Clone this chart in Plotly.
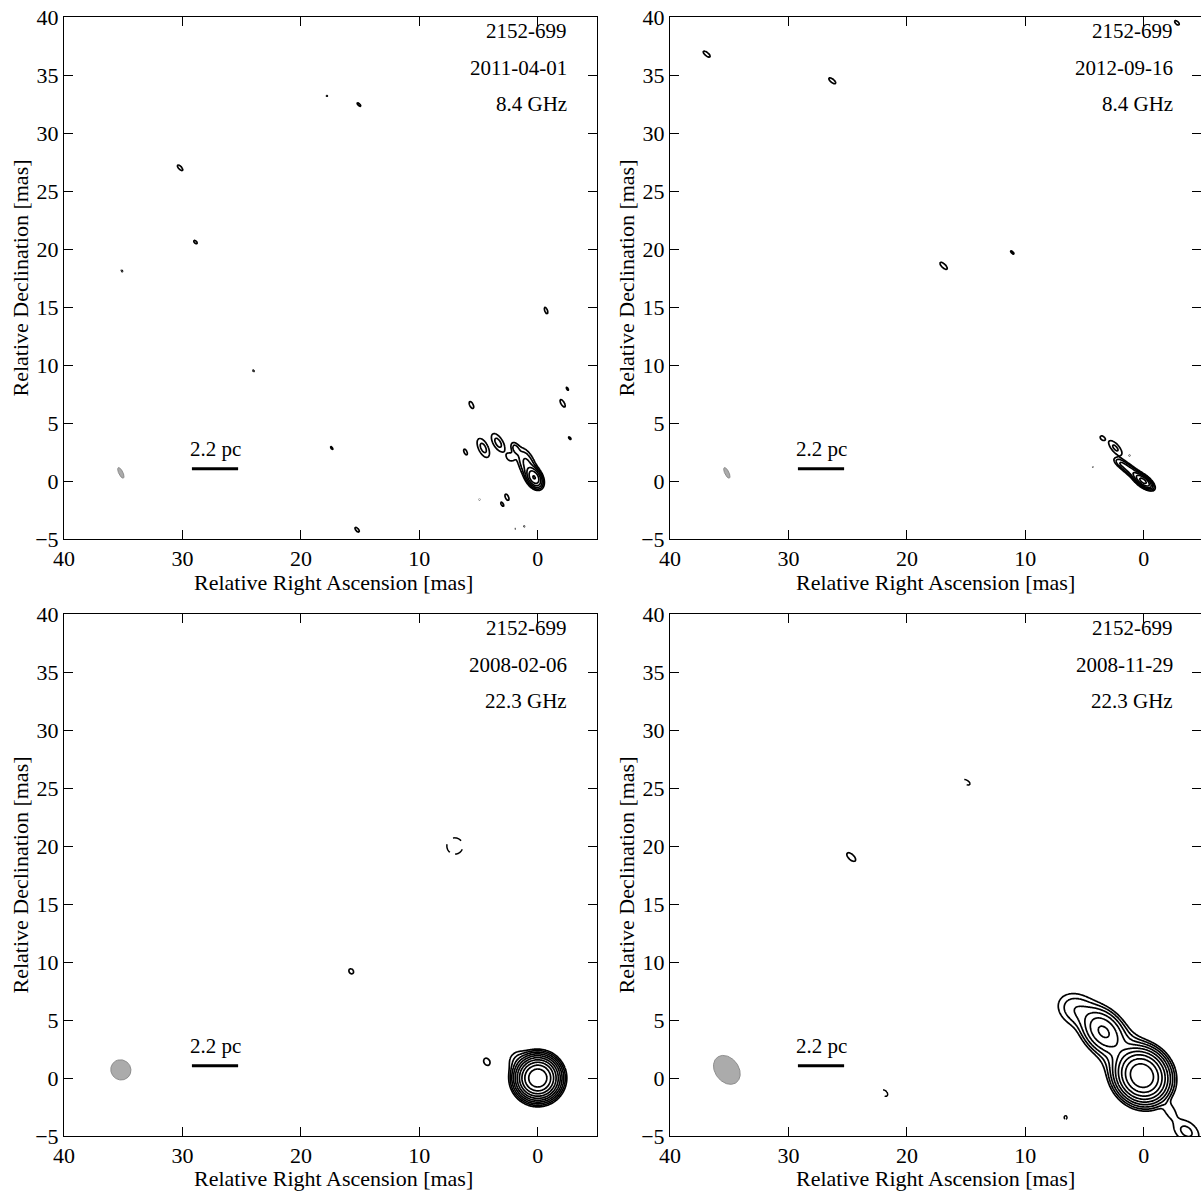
import numpy as np
import plotly.graph_objects as go

# ---------------- data ----------------
source_name = "2152-699"
epochs = ["2011-04-01", "2012-09-16", "2008-02-06", "2008-11-29"]
freqs = ["8.4 GHz", "8.4 GHz", "22.3 GHz", "22.3 GHz"]
x_title = "Relative Right Ascension [mas]"
y_title = "Relative Declination [mas]"

# Model components of each map (relative RA [mas], relative Dec [mas],
# peak in units of the lowest contour, sigma major / minor [mas], PA [deg])
p1_x = [30.2, 28.9, 35.1, 17.8, 15.1, 24.0, 17.4, 15.25, 29.3, -0.7, 5.6, 6.1, 4.6, 3.35, 1.6,
        -2.1, -2.5, -2.7, 4.9, 3.0, 2.6, 1.9, 1.15, 0.3, 0.9, 1.9, 2.3]
p1_y = [27.0, 20.6, 18.1, 33.2, 32.45, 9.5, 2.85, -4.2, 0.5, 14.7, 6.55, 2.5, 2.85, 3.3, 4.5,
        6.7, 7.95, 3.7, -1.6, -2.0, -1.4, -4.1, -3.9, 0.3, 1.4, 2.8, 2.05]
p1_peak = [1.6, 1.4, 1.15, 1.15, 1.4, 1.15, 1.3, 1.4, 1.05, 1.4, 1.4, 1.4, 2.5, 2.5, 1.1,
           1.5, 1.2, 1.25, 1.1, 1.4, 1.5, 1.05, 1.15, 32, 5, 2.5, 1.8]
p1_smaj = [0.32, 0.22, 0.18, 0.18, 0.25, 0.18, 0.22, 0.3, 0.1, 0.35, 0.4, 0.32, 0.65, 0.65, 0.1,
           0.4, 0.25, 0.22, 0.12, 0.25, 0.32, 0.1, 0.14, 0.45, 0.85, 0.38, 0.3]
p1_smin = [0.13, 0.12, 0.07, 0.07, 0.1, 0.07, 0.08, 0.14, 0.05, 0.14, 0.18, 0.15, 0.3, 0.3, 0.06,
           0.16, 0.1, 0.1, 0.06, 0.11, 0.15, 0.05, 0.06, 0.28, 0.38, 0.22, 0.25]
p1_pa = [42, 45, 40, 45, 45, 40, 35, 40, 40, 20, 25, 25, 25, 30, 30,
         30, 30, 40, 40, 30, 25, 40, 40, 28, 22, 25, 40]

p2_x = [36.9, 26.3, 16.9, 11.1, -2.8, 3.5, 2.4, 1.2, 4.3, 0.05, 1.0, 1.9]
p2_y = [36.8, 34.5, 18.55, 19.7, 39.5, 3.7, 2.85, 2.2, 1.2, 0.0, 0.8, 1.5]
p2_peak = [1.5, 1.5, 1.5, 1.3, 1.4, 1.4, 2.3, 1.1, 1.1, 40, 6, 3]
p2_smaj = [0.4, 0.4, 0.45, 0.28, 0.3, 0.25, 0.6, 0.1, 0.1, 0.45, 0.7, 0.45]
p2_smin = [0.16, 0.16, 0.18, 0.1, 0.15, 0.17, 0.25, 0.06, 0.06, 0.2, 0.22, 0.2]
p2_pa = [50, 50, 45, 45, 45, 45, 40, 40, 40, 52, 52, 55]

p3_x = [0.0, 1.6, 4.3, 7.0, 15.75, 15.8, 20.2]
p3_y = [0.0, 1.5, 1.4, 20.0, 9.2, 11.2, -1.7]
p3_peak = [1000, 2.0, 1.4, -1.5, 1.35, 1.1, 1.05]
p3_smaj = [0.67, 0.6, 0.4, 0.78, 0.3, 0.12, 0.08]
p3_smin = [0.66, 0.6, 0.3, 0.75, 0.24, 0.06, 0.05]
p3_pa = [0, 0, 30, 0, 30, 40, 40]

p4_x = [24.7, 15.0, 21.9, 6.6, 0.15, 1.4, 3.4, 5.5, -2.2, -3.6]
p4_y = [19.05, 25.5, -1.3, -3.4, 0.2, 1.7, 4.0, 5.8, -2.8, -4.6]
p4_peak = [1.3, -1.2, -1.3, -1.2, 500, 10, 36, 4, 1.6, 2.4]
p4_smaj = [0.65, 0.6, 0.45, 0.25, 0.9, 1.3, 1.0, 1.1, 0.6, 0.9]
p4_smin = [0.32, 0.3, 0.3, 0.2, 0.8, 0.9, 0.7, 0.8, 0.35, 0.6]
p4_pa = [45, 60, 45, 0, 35, 40, 40, 60, 30, 50]

# restoring beams (semi-axes [mas], PA [deg])
beam_x = 35.2
beam_y = 0.7
beam_a = [0.5, 0.5, 0.88, 1.35]
beam_b = [0.18, 0.18, 0.84, 1.0]
beam_pa = [25, 25, 30, 35]

# linear scale bar
bar_x0, bar_x1, bar_y = 29.2, 25.3, 1.05
bar_label = "2.2 pc"

# contour levels: lowest contour times powers of two
level_exponents = list(range(0, 13))

x_ticks = [40, 30, 20, 10, 0]
y_ticks = [-5, 0, 5, 10, 15, 20, 25, 30, 35, 40]

panels = [
    (p1_x, p1_y, p1_peak, p1_smaj, p1_smin, p1_pa),
    (p2_x, p2_y, p2_peak, p2_smaj, p2_smin, p2_pa),
    (p3_x, p3_y, p3_peak, p3_smaj, p3_smin, p3_pa),
    (p4_x, p4_y, p4_peak, p4_smaj, p4_smin, p4_pa),
]

# ---------------- figure ----------------
FONT = "Liberation Serif"
fig = go.Figure()


def model_field(comps, gx, gy):
    X, Y = np.meshgrid(gx, gy)
    F = np.zeros_like(X)
    for cx, cy, pk, sa, sb, pa in zip(*comps):
        t = np.deg2rad(pa)
        dx, dy = X - cx, Y - cy
        u = dx * np.sin(t) + dy * np.cos(t)
        v = dx * np.cos(t) - dy * np.sin(t)
        F += pk * np.exp(-0.5 * ((u / sa) ** 2 + (v / sb) ** 2))
    return F


W, H = 1201, 1191
xdom = [[64 / W, 597 / W], [670 / W, 1.0], [64 / W, 597 / W], [670 / W, 1.0]]
ydom = [[(H - 539) / H, (H - 17) / H], [(H - 539) / H, (H - 17) / H],
        [(H - 1136) / H, (H - 614) / H], [(H - 1136) / H, (H - 614) / H]]
xtitle_pos = [(333 / W, (H - 582) / H), (935 / W, (H - 582) / H),
              (333 / W, (H - 1178) / H), (935 / W, (H - 1178) / H)]
px_per_mas = 533 / 45.0

black = [[0, "black"], [1, "black"]]
annotations = []
layout_axes = {}

for i, comps in enumerate(panels):
    n = i + 1
    xa = "x" if n == 1 else f"x{n}"
    ya = "y" if n == 1 else f"y{n}"

    step = 0.07
    gx = np.arange(-5.3, 40.3, step)
    gy = np.arange(-5.3, 40.3, step)
    F = model_field(comps, gx, gy)
    Zp = np.log2(np.clip(F, 2.0 ** -10, None)).astype(np.float32)
    fig.add_trace(go.Contour(
        x=gx.astype(np.float32), y=gy.astype(np.float32), z=Zp, xaxis=xa, yaxis=ya,
        contours=dict(start=level_exponents[0], end=level_exponents[-1], size=1, coloring="lines"),
        colorscale=black, showscale=False, line=dict(width=1.7), hoverinfo="skip"))

    negs = [k for k, p in enumerate(comps[2]) if p < 0]
    if negs:
        nx = [comps[0][k] for k in negs]
        ny = [comps[1][k] for k in negs]
        lx = np.arange(min(nx) - 2.5, max(nx) + 2.5, 0.04)
        ly = np.arange(min(ny) - 2.5, max(ny) + 2.5, 0.04)
        Fn = model_field(comps, lx, ly)
        Zn = np.log2(np.clip(-Fn, 2.0 ** -10, None)).astype(np.float32)
        fig.add_trace(go.Contour(
            x=lx.astype(np.float32), y=ly.astype(np.float32), z=Zn, xaxis=xa, yaxis=ya,
            contours=dict(start=0, end=0.5, size=1, coloring="lines"),
            colorscale=black, showscale=False, line=dict(width=1.5, dash="dash"),
            hoverinfo="skip"))

    # beam
    th = np.linspace(0, 2 * np.pi, 120)
    t = np.deg2rad(beam_pa[i])
    u = beam_a[i] * np.cos(th)
    v = beam_b[i] * np.sin(th)
    bx = beam_x + u * np.sin(t) + v * np.cos(t)
    by = beam_y + u * np.cos(t) - v * np.sin(t)
    fig.add_trace(go.Scatter(x=bx, y=by, mode="lines", fill="toself",
                             fillcolor="#ababab", line=dict(color="#8c8c8c", width=1),
                             xaxis=xa, yaxis=ya, hoverinfo="skip", showlegend=False))
    # scale bar
    fig.add_trace(go.Scatter(x=[bar_x0, bar_x1], y=[bar_y, bar_y], mode="lines",
                             line=dict(color="black", width=3), xaxis=xa, yaxis=ya,
                             hoverinfo="skip", showlegend=False))
    annotations.append(dict(x=(bar_x0 + bar_x1) / 2, y=bar_y + 0.5, xref=xa, yref=ya,
                            text=bar_label, showarrow=False, yanchor="bottom",
                            font=dict(family=FONT, size=21, color="black")))
    for txt, yy in zip([source_name, epochs[i], freqs[i]], [38.8, 35.6, 32.5]):
        annotations.append(dict(x=-2.6, y=yy, xref=xa, yref=ya, text=txt, showarrow=False,
                                xanchor="right", yanchor="middle",
                                font=dict(family=FONT, size=21, color="black")))
    # x-axis title
    annotations.append(dict(x=xtitle_pos[i][0], y=xtitle_pos[i][1], xref="paper", yref="paper",
                            text=x_title, showarrow=False, xanchor="center", yanchor="middle",
                            font=dict(family=FONT, size=22, color="black")))

    right_edge = -5 if n in (1, 3) else 40 - (W - 670) / px_per_mas
    axis_common = dict(showline=True, linecolor="black", linewidth=1, mirror="ticks",
                       ticks="inside", ticklen=9, tickwidth=1, tickcolor="black",
                       showgrid=False, zeroline=False, automargin=False,
                       tickfont=dict(family=FONT, size=22, color="black"),
                       title_font=dict(family=FONT, size=22, color="black"))
    layout_axes["xaxis" if n == 1 else f"xaxis{n}"] = dict(
        axis_common, domain=xdom[i], range=[40, right_edge], tickvals=x_ticks, anchor=ya)
    layout_axes["yaxis" if n == 1 else f"yaxis{n}"] = dict(
        axis_common, domain=ydom[i], range=[-5, 40], tickvals=y_ticks,
        anchor=xa, title=dict(text=y_title, standoff=0))

fig.update_layout(width=W, height=H, margin=dict(l=0, r=0, t=0, b=0),
                  paper_bgcolor="white", plot_bgcolor="white", showlegend=False,
                  template="none", annotations=annotations, **layout_axes)
fig.write_html("out.html", config={"displayModeBar": False},
               post_script="document.body.style.margin='0';document.body.style.overflow='hidden';")
